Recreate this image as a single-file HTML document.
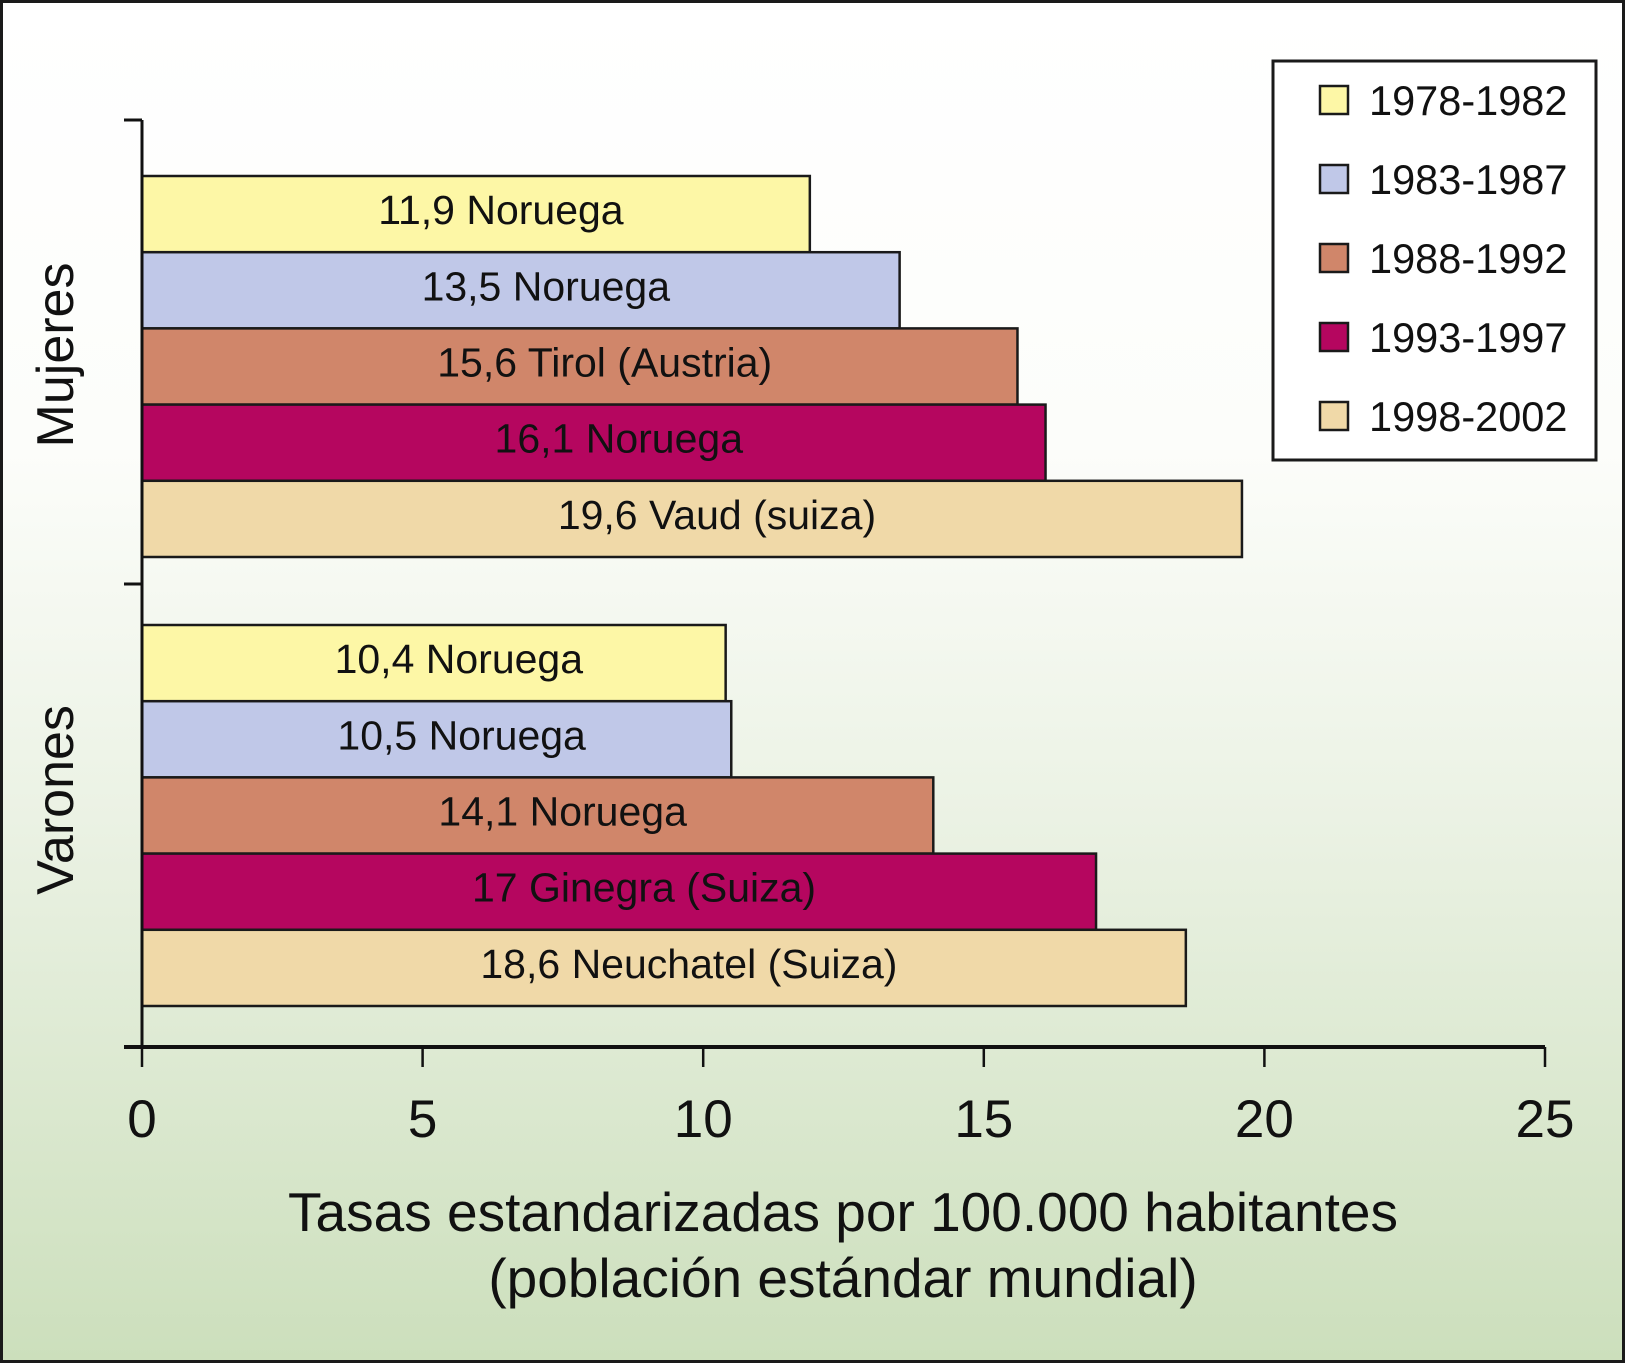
<!DOCTYPE html>
<html><head><meta charset="utf-8"><style>
html,body{margin:0;padding:0}
body{width:1625px;height:1363px;overflow:hidden;font-family:"Liberation Sans",sans-serif}
</style></head><body>
<svg id="chart" width="1625" height="1363" xmlns="http://www.w3.org/2000/svg">
<defs><linearGradient id="bg" x1="0" y1="0" x2="0" y2="1">
<stop offset="0" stop-color="#ffffff"/><stop offset="0.33" stop-color="#fcfdfa"/><stop offset="0.6" stop-color="#ebf2e4"/><stop offset="1" stop-color="#ccdfbc"/></linearGradient></defs>
<rect x="1.5" y="1.5" width="1622" height="1360" fill="url(#bg)" stroke="#1a1a1a" stroke-width="3"/>
<g id="plot"></g>
</svg>
<script>
const categories = ["Mujeres","Varones"];
const series = ["1978-1982","1983-1987","1988-1992","1993-1997","1998-2002"];
const colors = ["#fdf7a6","#c0c8e8","#d0866a","#b5065f","#f0d9a8"];
const mujeresValues = [11.9,13.5,15.6,16.1,19.6];
const mujeresLabels = ["11,9 Noruega","13,5 Noruega","15,6 Tirol (Austria)","16,1 Noruega","19,6 Vaud (suiza)"];
const varonesValues = [10.4,10.5,14.1,17,18.6];
const varonesLabels = ["10,4 Noruega","10,5 Noruega","14,1 Noruega","17 Ginegra (Suiza)","18,6 Neuchatel (Suiza)"];
const xTicks = [0,5,10,15,20,25];

const NS="http://www.w3.org/2000/svg";
const g=document.getElementById('plot');
function mk(t,a,txt){const e=document.createElementNS(NS,t);for(const k in a)e.setAttribute(k,a[k]);if(txt!=null)e.textContent=txt;g.appendChild(e);return e;}
const x0=142,x1=1545,xmax=25;
const xs=v=>x0+(x1-x0)*v/xmax;
const axisY=1047, topY=120;
const groupTop=[176,625], barH=76.2;

const allVals=[mujeresValues,varonesValues], allLabs=[mujeresLabels,varonesLabels];
allVals.forEach((vals,gi)=>{
  vals.forEach((v,i)=>{
    const y=groupTop[gi]+i*barH;
    const r=mk('rect',{x:x0,y:y,width:xs(v)-x0,height:barH,fill:colors[i],stroke:"#1a1a1a","stroke-width":2.5});
    
    
    const t=mk('text',{x:(x0+xs(v))/2+25,y:y+barH/2+10,"text-anchor":"middle","font-size":41,fill:"#111"},allLabs[gi][i]);
    
    
  });
});
// axes
let a=mk('line',{x1:x0,y1:topY,x2:x0,y2:axisY,stroke:"#111","stroke-width":3});

a=mk('line',{x1:124,y1:axisY,x2:x1,y2:axisY,stroke:"#111","stroke-width":4});

[topY,584].forEach(y=>{const l=mk('line',{x1:124,y1:y,x2:x0,y2:y,stroke:"#111","stroke-width":3});
});
xTicks.forEach(v=>{
  const l=mk('line',{x1:xs(v),y1:axisY,x2:xs(v),y2:1067,stroke:"#111","stroke-width":2.5});
  
  const t=mk('text',{x:xs(v),y:1137,"text-anchor":"middle","font-size":53,fill:"#111"},String(v));
  
});
// category labels
[355,800].forEach((cy,i)=>{
  const t=mk('text',{x:0,y:0,"text-anchor":"middle","font-size":52,fill:"#111",transform:`translate(73,${cy}) rotate(-90)`},categories[i]);
  
});
// x title
let t=mk('text',{x:843,y:1231,"text-anchor":"middle","font-size":55,fill:"#111"},"Tasas estandarizadas por 100.000 habitantes");

t=mk('text',{x:843,y:1297,"text-anchor":"middle","font-size":55,fill:"#111"},"(población estándar mundial)");

// legend
const lb=mk('rect',{x:1273,y:61,width:323,height:399,fill:"#fff",stroke:"#1a1a1a","stroke-width":3});

series.forEach((s,i)=>{
  const cy=100+i*79;
  const r=mk('rect',{x:1320,y:cy-14,width:28,height:28,fill:colors[i],stroke:"#1a1a1a","stroke-width":2.5});
  
  const tt=mk('text',{x:1369,y:cy+15,"font-size":41.5,fill:"#111"},s);
  
});
</script>
</body></html>
